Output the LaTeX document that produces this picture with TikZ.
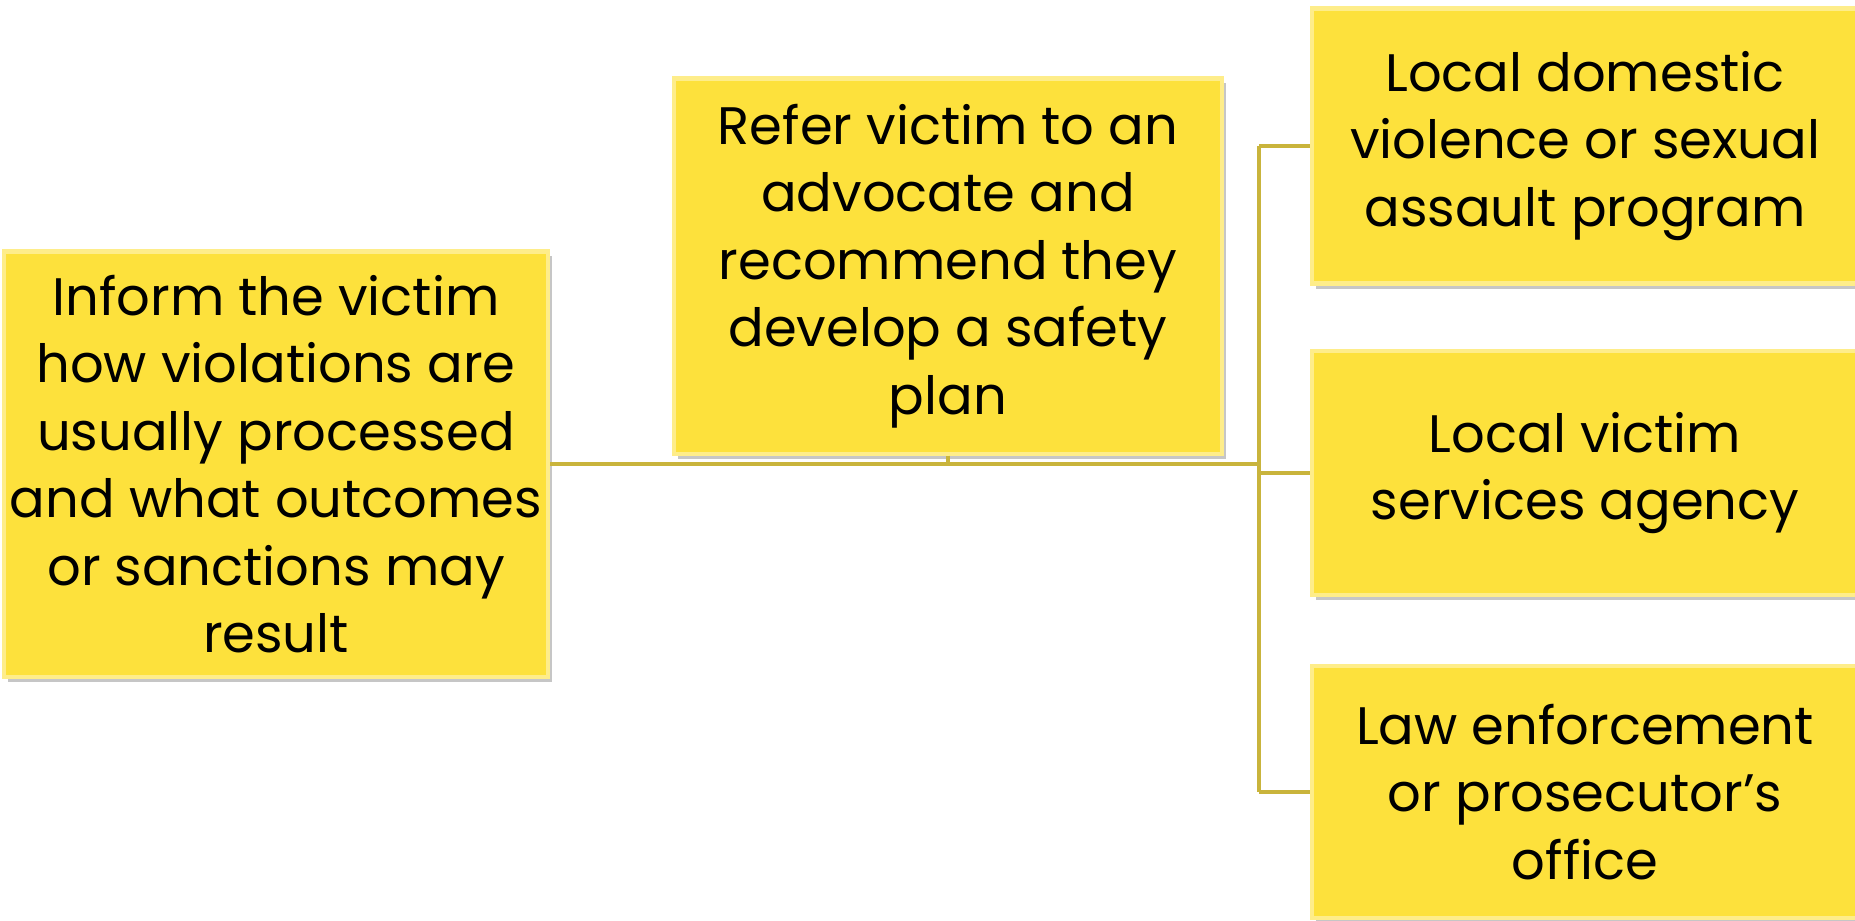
\documentclass[tikz,border=0pt]{standalone}
\usepackage{fontspec}
\setmainfont{Poppins}
\usetikzlibrary{shadows}
\definecolor{boxyellow}{RGB}{253,225,60}
\definecolor{linkgold}{RGB}{201,180,60}
\tikzset{
	box/.style={fill=boxyellow,draw=boxyellow!60!white,line width=1.2pt,align=center,inner sep=0pt,
		font=\fontsize{15}{19.2}\selectfont,
		drop shadow={shadow xshift=.04cm,shadow yshift=-.05cm,opacity=.45,fill=gray}},
	link/.style={draw=linkgold,line width=1.2pt}
}
\begin{document}
\begin{tikzpicture}[x=0.01cm,y=-0.01cm]
	\useasboundingbox (0,0) rectangle (1855,920);
	\node[box,minimum width=5.44cm,minimum height=4.25cm] (inform) at (276,464) {Inform the victim\\how violations are\\usually processed\\and what outcomes\\or sanctions may\\result};% Left
	\node[box,minimum width=5.47cm,minimum height=3.75cm] (refer) at (948,266) {Refer victim to an\\advocate and\\recommend they\\develop a safety\\plan};% Middle
	\node[box,minimum width=5.46cm,minimum height=2.75cm] (program) at (1585,146) {Local domestic\\violence or sexual\\assault program};% Right top
	\node[box,minimum width=5.46cm,minimum height=2.44cm] (agency) at (1585,473) {Local victim\\services agency};% Right middle
	\node[box,minimum width=5.46cm,minimum height=2.52cm] (office) at (1585,792) {Law enforcement\\or prosecutor’s\\office};% Right bottom
	\coordinate (hub) at (1259,464);
	\draw[link] (inform.east) -- (hub);% Main line
	\draw[link] (refer.south) -- (refer.south |- hub);% Tick
	\draw[link] (hub |- program.west) -- (hub |- office.west);% Spine
	\draw[link] (hub |- program.west) -- (program.west);
	\draw[link] (hub |- agency.west) -- (agency.west);
	\draw[link] (hub |- office.west) -- (office.west);
\end{tikzpicture}
\end{document}
